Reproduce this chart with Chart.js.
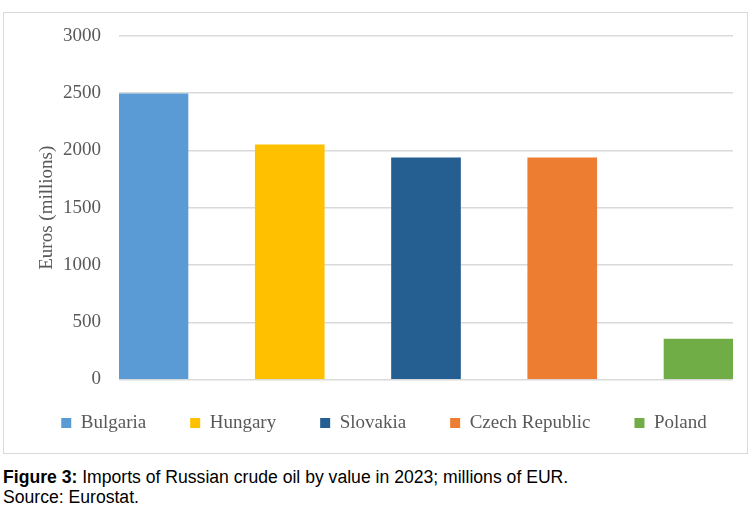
<!DOCTYPE html>
<html>
<head>
<meta charset="utf-8">
<script src="https://cdn.jsdelivr.net/npm/chart.js@4"></script>
<style>
  body { margin: 0; background: #fff; width: 750px; height: 507px; position: relative; overflow: hidden; }
  #frame { position: absolute; left: 3px; top: 12px; width: 745px; height: 442px; border: 1.5px solid #d9d9d9; box-sizing: border-box; }
  #grafico { position: absolute; left: 0; top: 0; }
  #legenda { position: absolute; left: 3px; top: 467px; font-family: "Liberation Sans", Arial, sans-serif; font-size: 17.6px; line-height: 20px; color: #000; white-space: nowrap; }
</style>
</head>
<body>
<div id="frame"></div>
<canvas id="grafico" width="750" height="460"></canvas>
<div id="legenda"><b>Figure 3:</b> Imports of Russian crude oil by value in 2023; millions of EUR.<br>Source: Eurostat.</div>
<script>
// Dados (milhões de EUR)
const paises = ['Bulgaria', 'Hungary', 'Slovakia', 'Czech Republic', 'Poland'];
const valores = [2495, 2050, 1937, 1937, 352];
const cores = ['#5b9bd5', '#ffc000', '#255e91', '#ed7d31', '#70ad47'];
const yTicks = [0, 500, 1000, 1500, 2000, 2500, 3000];

const textColor = '#595959';
const serif = '"Liberation Serif", "Times New Roman", serif';

// ajusta a legenda (mais perto do eixo e um pouco pra direita, como no Excel)
const ajustarLegenda = {
    id: 'ajustarLegenda',
    afterLayout(chart) {
        const lg = chart.legend;
        lg.top -= 10;
        lg.bottom -= 10;
        lg.left += 9;
        lg.right += 9;
    }
};

const ctx = document.getElementById('grafico').getContext('2d');

new Chart(ctx, {
    type: 'bar',
    data: {
        datasets: paises.map((p, i) => ({
            label: p,
            data: [{ x: i, y: valores[i] }],
            backgroundColor: cores[i],
            borderWidth: 0,
            barThickness: 69,
            grouped: false
        }))
    },
    options: {
        responsive: false,
        animation: false,
        events: [],
        layout: { padding: { left: 0, right: 0, top: 36, bottom: 7.5 } },
        plugins: {
            tooltip: { enabled: false },
            legend: {
                position: 'bottom',
                labels: {
                    boxWidth: 10,
                    boxHeight: 10,
                    padding: 44,
                    color: textColor,
                    font: { family: serif, size: 19 }
                }
            }
        },
        scales: {
            x: {
                type: 'linear',
                display: false,
                offset: false,
                min: -0.2532,
                max: paises.length - 1 + 0.2532
            },
            y: {
                min: yTicks[0],
                max: yTicks[yTicks.length - 1],
                afterBuildTicks: (scale) => { scale.ticks = yTicks.map(v => ({ value: v })); },
                afterFit: (scale) => { scale.width = 119; },
                border: { display: false },
                grid: { color: '#d9d9d9', lineWidth: 1.5, drawTicks: false },
                ticks: {
                    color: textColor,
                    padding: 18,
                    font: { family: serif, size: 19 },
                    callback: (v) => String(v)
                },
                title: {
                    display: true,
                    text: 'Euros (millions)',
                    color: textColor,
                    padding: { top: 36, bottom: 0 },
                    font: { family: serif, size: 19 }
                }
            },
            // eixo vazio à direita só para reservar a margem
            margemDir: {
                position: 'right',
                afterFit: (scale) => { scale.width = 17; },
                grid: { display: false },
                border: { display: false },
                ticks: { display: false }
            }
        }
    },
    plugins: [ajustarLegenda]
});
</script>
</body>
</html>
